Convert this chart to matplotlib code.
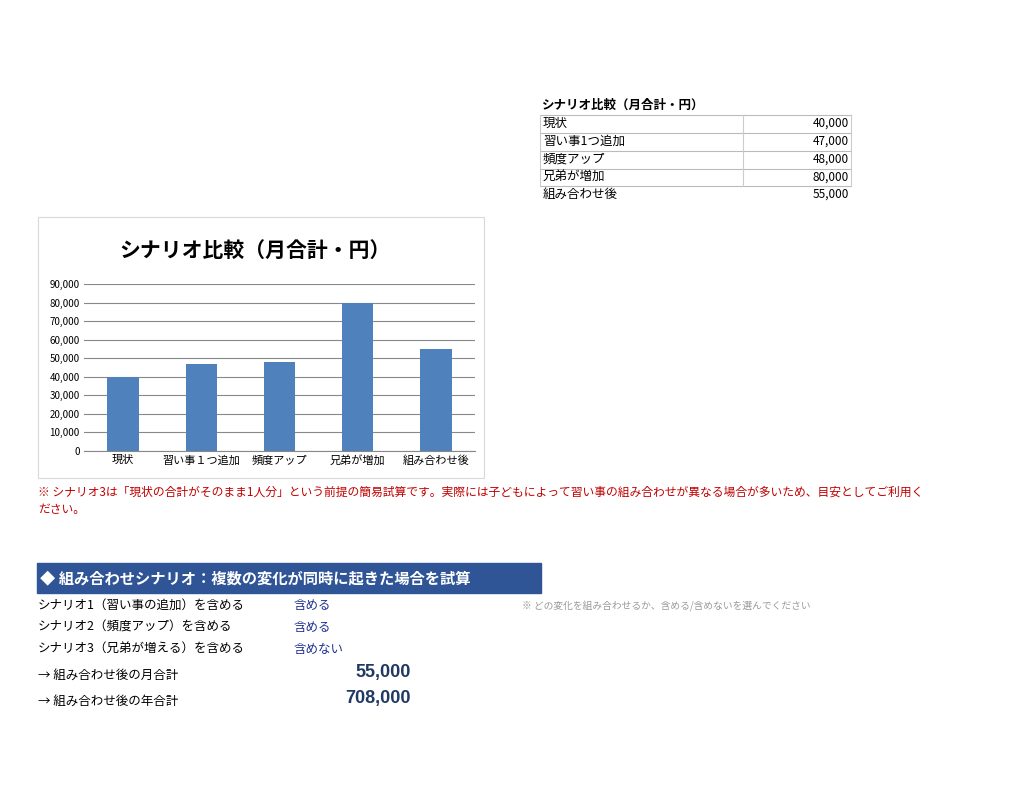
import matplotlib
matplotlib.use("Agg")
import matplotlib.pyplot as plt
from matplotlib.patches import Rectangle

plt.rcParams['font.family'] = ['Noto Sans CJK JP', 'DejaVu Sans']

categories = ["現状", "習い事１つ追加", "頻度アップ", "兄弟が増加", "組み合わせ後"]
table_labels = ["現状", "習い事1つ追加", "頻度アップ", "兄弟が増加", "組み合わせ後"]
values = [40000, 47000, 48000, 80000, 55000]
yticks = list(range(0, 90001, 10000))
scenario_rows = ["シナリオ1（習い事の追加）を含める", "シナリオ2（頻度アップ）を含める", "シナリオ3（兄弟が増える）を含める"]
scenario_choice = ["含める", "含める", "含めない"]
monthly_total = 55000
annual_total = 708000

W, H = 1024, 791
fig = plt.figure(figsize=(W/100, H/100), dpi=100)

def fx(x): return x / W
def fy(y): return 1 - y / H
def txt(x, y, s, **kw):
    fig.text(fx(x), fy(y), s, va='center', **kw)

# Table
txt(542, 105, "シナリオ比較（月合計・円）", fontsize=9, fontweight='bold')
row_y = [115, 133, 151, 169, 186]
for i, (lab, v) in enumerate(zip(table_labels, values)):
    yc = row_y[i] + 8 if i < 4 else 194
    txt(543, yc, lab, fontsize=9)
    txt(849, yc, f"{v:,}", fontsize=8.5, ha='right')
for y in row_y:
    fig.add_artist(plt.Line2D([fx(540), fx(851)], [fy(y), fy(y)], color='#bbbbbb', lw=0.8))
for x in (540, 743, 851):
    fig.add_artist(plt.Line2D([fx(x), fx(x)], [fy(115), fy(186)], color='#cccccc', lw=0.8))

# Chart frame
fig.add_artist(Rectangle((fx(38), fy(478)), fx(446), 261/H, fill=False, ec='#d9d9d9', lw=0.8))
txt(255, 250, "シナリオ比較（月合計・円）", fontsize=15, fontweight='bold', ha='center')

ax = fig.add_axes([fx(84), fy(451), fx(391), 167/H])
x = range(len(categories))
ax.bar(x, values, width=0.4, color='#4f81bd')
ax.set_ylim(0, 90000)
ax.set_xlim(-0.5, len(categories) - 0.5)
ax.set_yticks(yticks)
ax.set_yticklabels([f"{t:,}" for t in yticks], fontsize=7)
ax.set_xticks(list(x))
ax.set_xticklabels(categories, fontsize=8)
ax.yaxis.grid(True, color='#888888', lw=0.8)
ax.set_axisbelow(True)
for s in ax.spines.values():
    s.set_visible(False)
ax.spines['bottom'].set_visible(True)
ax.spines['bottom'].set_color('#888888')
ax.tick_params(length=0, pad=3)

# Note
red = '#c00000'
txt(38, 492, "※ シナリオ3は「現状の合計がそのまま1人分」という前提の簡易試算です。実際には子どもによって習い事の組み合わせが異なる場合が多いため、目安としてご利用く",
    fontsize=8.5, color=red, style='italic')
txt(38, 510, "ださい。", fontsize=8.5, color=red, style='italic')

# Header bar
fig.add_artist(Rectangle((fx(37), fy(593)), fx(504), 30/H, color='#2f5597'))
txt(40, 578, "◆ 組み合わせシナリオ：複数の変化が同時に起きた場合を試算", fontsize=11, color='white', fontweight='bold')

for i, (lab, ch) in enumerate(zip(scenario_rows, scenario_choice)):
    y = 605 + i * 22
    txt(38, y, lab, fontsize=9)
    txt(294, y, ch, fontsize=9, color='#1f2f8f')
txt(522, 606, "※ どの変化を組み合わせるか、含める/含めないを選んでください", fontsize=7, color='#999999', style='italic')

txt(38, 675, "→ 組み合わせ後の月合計", fontsize=9)
txt(411, 673, f"{monthly_total:,}", fontsize=13, color='#1f3864', fontweight='bold', ha='right', family='Liberation Sans')
txt(38, 701, "→ 組み合わせ後の年合計", fontsize=9)
txt(411, 699, f"{annual_total:,}", fontsize=13, color='#1f3864', fontweight='bold', ha='right', family='Liberation Sans')

fig.savefig("out.png", dpi=100)
